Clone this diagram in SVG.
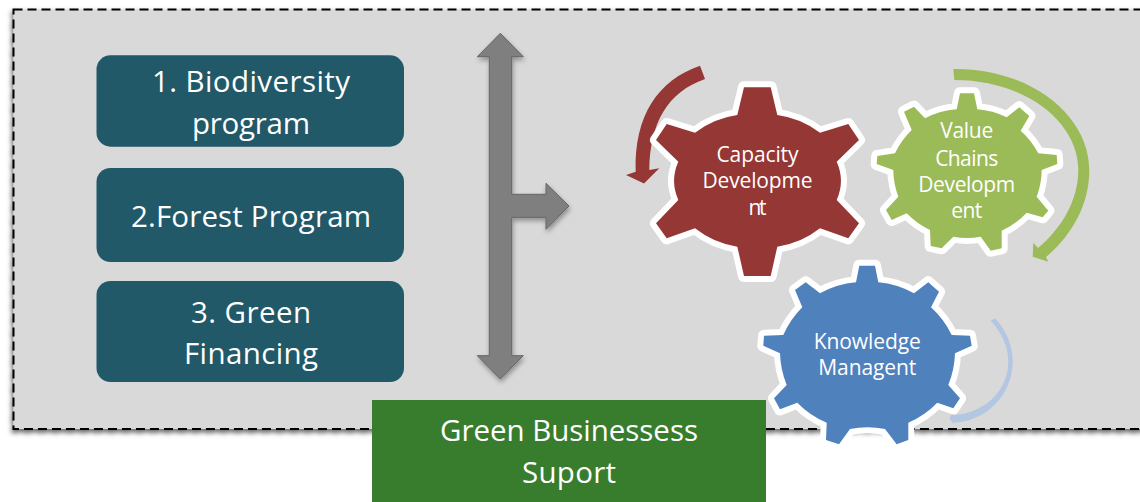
<svg xmlns="http://www.w3.org/2000/svg" width="1140" height="502" viewBox="0 0 1140 502">
<defs>
<filter id="shadow" x="-10%" y="-10%" width="120%" height="120%"><feDropShadow dx="-1" dy="3" stdDeviation="2.5" flood-color="#000" flood-opacity="0.6"/></filter>
<filter id="arrowShadow" x="-30%" y="-10%" width="160%" height="120%"><feDropShadow dx="1" dy="3" stdDeviation="2.5" flood-color="#000" flood-opacity="0.35"/></filter>
</defs>
<style>
text{font-family:"Open Sans","Noto Sans","Liberation Sans",sans-serif;fill:#fff;text-anchor:middle}
.big{font-size:29.5px}
.small{font-size:21px}
.box{fill:#215968}
.gear{stroke:#fff;stroke-width:12;stroke-linejoin:round;paint-order:stroke}
</style>
<g id="frame"><rect x="13.5" y="9.5" width="1200" height="419.5" fill="#d9d9d9" stroke="#000" stroke-width="2" stroke-dasharray="9 5" filter="url(#shadow)"/></g>
<g id="box-biodiversity"><rect class="box" x="96.5" y="55.3" width="307.5" height="91.4" rx="14"/>
<text class="big" x="251" y="92" textLength="198">1. Biodiversity</text><text class="big" x="251" y="134" textLength="118">program</text></g>
<g id="box-forest"><rect class="box" x="96.5" y="168" width="307.5" height="94" rx="14"/>
<text class="big" x="251" y="227" textLength="240">2.Forest Program</text></g>
<g id="box-financing"><rect class="box" x="96.5" y="281" width="307.5" height="101" rx="14"/>
<text class="big" x="251" y="323" textLength="120">3. Green</text><text class="big" x="251" y="364" textLength="134">Financing</text></g>
<g id="connectors">
<path id="split-arrow" d="M500.3,33.3L523.3,56.7H511.7V194.3H546V183.3L569,206L546,229.3V217.3H511.7V355.7H523.3L500.3,379L477.3,355.7H489.3V56.7H477.3Z" fill="#7f7f7f" stroke="#666" stroke-width="1" filter="url(#arrowShadow)"/>
<path id="cycle-red" d="M700,65.7C658,80 634,116 635.7,171.7L626,175L644,183.5L659.3,168.3L649.3,170C650,122 668,92 705,79Z" fill="#953735"/>
<path id="cycle-green" d="M953.3,69C1030,68 1089.3,115 1089.3,170C1089.3,205 1072,235 1046,257L1048.3,261.7L1032.7,256.7L1033.3,242.7L1038,248C1062,228 1078.3,200 1078.3,170C1078.3,122 1025,80 954.3,80Z" fill="#9bbb59"/>
<path id="cycle-blue" d="M990.7,320.7L995,318.3C1006,330 1012.7,345 1012.7,361.7C1012.7,395 985,422 953.3,422.7V424L949.3,418.3L953.3,412.3V415C982,414 1008.3,392 1008.3,361.7C1008.3,346 1001,332 990.7,320.7Z" fill="#b4c7e2"/>
</g>
<g id="gear-capacity">
<path class="gear" fill="#953735" d="M744,87.3H770.7L777.3,115A90,90 0 0 1 820,132.7L848.3,124L859,140L836.7,161.7A47,47 0 0 1 836.7,200L859,223.3L848.3,238.3L820,228.3A90,90 0 0 1 777.3,246.7L770.7,276H744L737.3,246.7A90,90 0 0 1 695,228.3L666.7,238.3L656,223.3L678.3,200A47,47 0 0 1 678.3,161.7L656,140L666.7,124L695,132.7A90,90 0 0 1 737.3,115Z"/>
<text class="small" x="757.5" y="161.5" textLength="82">Capacity</text><text class="small" x="757.5" y="188" textLength="110">Developme</text><text class="small" x="757.5" y="215" textLength="18">nt</text></g>
<g id="gear-value">
<path class="gear" fill="#9bbb59" d="M960,93.3H974L977.3,109.3A80,80 0 0 1 1006.7,117.3L1019.3,107.3L1029.3,116L1020.7,130.7A80,80 0 0 1 1038.3,153.3L1056.7,155L1057.3,164L1041.7,170A80,80 0 0 1 1036.7,196.7L1048.3,210.7L1042.7,217.3L1026.7,212.7A80,80 0 0 1 1001.7,230.7L1001.7,248.3L990.7,250.7L980.7,236.7A80,80 0 0 1 953.3,236.7L941.7,248.3L930.7,246L930,230A80,80 0 0 1 906.7,213.3L891.7,220L886,210L898.3,196.7A80,80 0 0 1 893.3,170L876.7,164L877.3,156L895,153.3A80,80 0 0 1 911.7,130L904,111.7L914,106.7L925,118.3A80,80 0 0 1 956.7,109.3Z"/>
<text class="small" x="966.7" y="138" textLength="53">Value</text><text class="small" x="966.7" y="165.5" textLength="63">Chains</text><text class="small" x="966.7" y="191.7" textLength="97">Developm</text><text class="small" x="966.7" y="217.7" textLength="31">ent</text></g>
<g id="gear-knowledge">
<path class="gear" fill="#4f81bd" d="M859.3,265.7H875L878.3,282.3A90,90 0 0 1 914,293.3L928.3,282.3L939,291.7L931,307.3A90,90 0 0 1 951.7,335L970,335.7L971.7,345.7L955,353.3A90,90 0 0 1 948.3,385L960,398.3L953.3,408.3L937.3,402.7A90,90 0 0 1 908.3,422.7L908.3,440L896.7,444.3L885,429A90,90 0 0 0 850,429L839,444.3L826,440L826.7,422.7A90,90 0 0 1 797.3,402.7L780,409.3L774,398.3L786.7,385A90,90 0 0 1 780,353.3L763.3,345.7L764,335.7L783.3,335A90,90 0 0 1 802.3,307.3L795,290L805.7,282.3L820,293.3A90,90 0 0 1 856,282.3Z"/>
<text class="small" x="867.3" y="349" textLength="107">Knowledge</text><text class="small" x="867.3" y="375" textLength="98">Managent</text></g>
<g id="box-green-business"><rect x="372" y="400" width="394" height="102" fill="#387d2e"/>
<text class="big" x="569" y="441" textLength="258">Green Businessess</text><text class="big" x="569" y="483" textLength="94">Suport</text></g>
</svg>
